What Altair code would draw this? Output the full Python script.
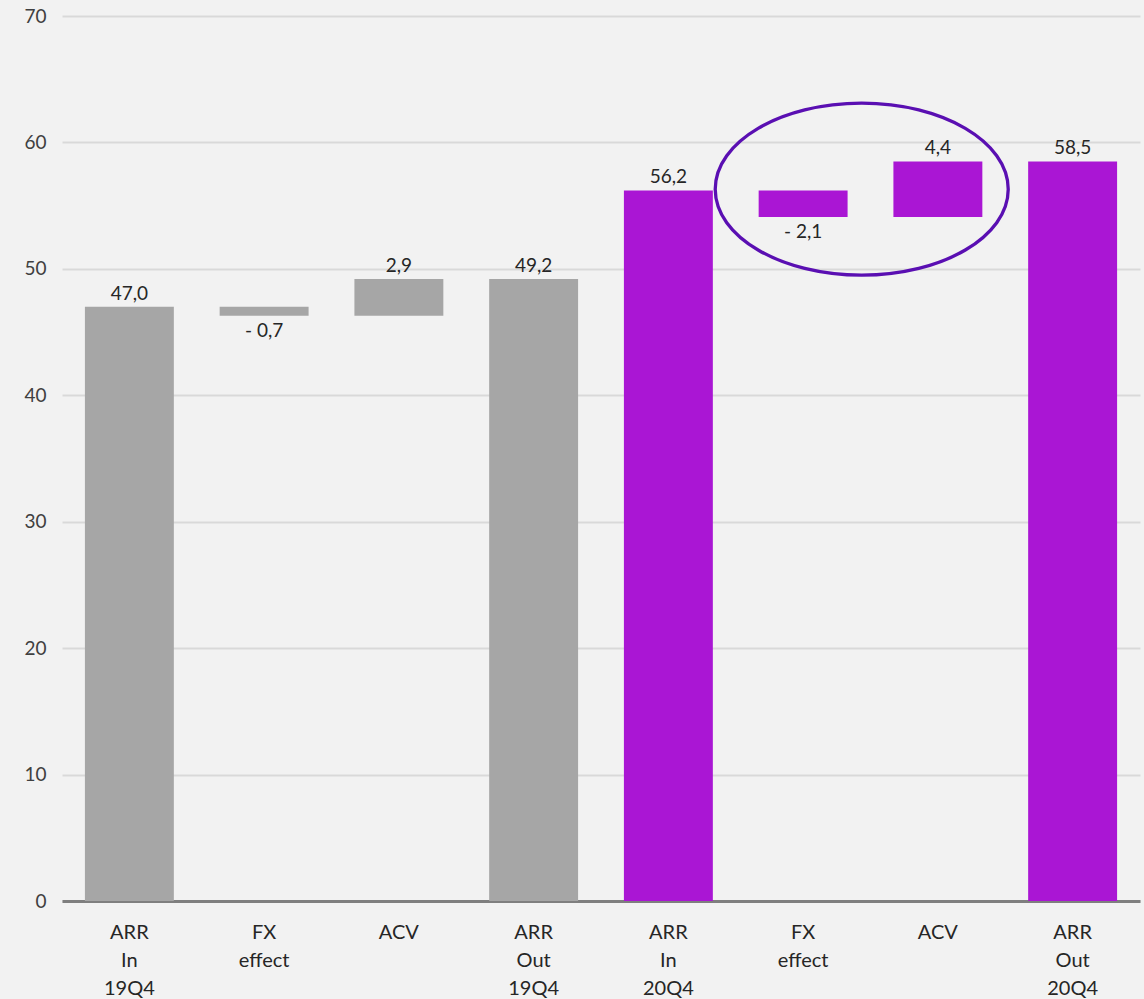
import altair as alt
import pandas as pd

# ---- data ----
categories = ["ARR In 19Q4", "FX effect", "ACV", "ARR Out 19Q4",
              "ARR In 20Q4", "FX effect ", "ACV ", "ARR Out 20Q4"]
values = [47.0, -0.7, 2.9, 49.2, 56.2, -2.1, 4.4, 58.5]
kinds = ["total", "delta", "delta", "total", "total", "delta", "delta", "total"]
periods = ["19", "19", "19", "19", "20", "20", "20", "20"]

y_ticks = [0, 10, 20, 30, 40, 50, 60, 70]

# highlight ellipse (annotation around the 20Q4 FX/ACV bars)
ellipse_cat = ["FX effect "]
ellipse_y = [56.3]

GRAY = "#a6a6a6"
PURPLE = "#aa16d4"
ELLIPSE = "#5a0fb2"
FONT = "Lato"

rows = []
running = 0.0
for c, v, k, p in zip(categories, values, kinds, periods):
    if k == "total":
        start, end = 0.0, v
        running = v
        label = f"{v:.1f}".replace(".", ",")
    else:
        start, end = running, running + v
        running = end
        label = (f"- {abs(v):.1f}" if v < 0 else f"{v:.1f}").replace(".", ",")
    rows.append({"cat": c, "start": start, "end": end, "value": v,
                 "label": label, "period": p, "neg": v < 0})
df = pd.DataFrame(rows)

x_enc = alt.X("cat:N", sort=categories,
              scale=alt.Scale(paddingInner=0.34, paddingOuter=0.17),
              axis=alt.Axis(title=None, labelAngle=0, ticks=False,
                            domain=True, domainColor="#7f7f7f", domainWidth=3,
                            labelExpr="split(trim(datum.value), ' ')",
                            labelFont=FONT, labelFontSize=20, labelColor="#262626",
                            labelPadding=21, labelLineHeight=28,
                            labelBaseline="top"))
y_scale = alt.Scale(domain=[0, 70], nice=False)

base = alt.Chart(df)

bars = base.mark_bar().encode(
    x=x_enc,
    y=alt.Y("start:Q", scale=y_scale,
            axis=alt.Axis(title=None, values=y_ticks, ticks=False, domain=False,
                          gridColor="#d9d9d9", gridWidth=2,
                          labelFont=FONT, labelFontSize=19, labelColor="#404040",
                          labelPadding=16)),
    y2="end:Q",
    color=alt.Color("period:N", scale=alt.Scale(domain=["19", "20"], range=[GRAY, PURPLE]),
                    legend=None),
)

pos_labels = base.transform_filter("!datum.neg").mark_text(
    baseline="bottom", dy=-3, font=FONT, fontSize=19, color="#262626"
).encode(x=alt.X("cat:N", sort=categories), y=alt.Y("end:Q"), text="label:N")

neg_labels = base.transform_filter("datum.neg").mark_text(
    baseline="top", dy=6, font=FONT, fontSize=19, color="#262626"
).encode(x=alt.X("cat:N", sort=categories), y=alt.Y("end:Q"), text="label:N")

edf = pd.DataFrame({"cat": ellipse_cat, "y": ellipse_y})
ellipse = alt.Chart(edf).mark_point(
    shape="M -0.6 0 A 1 0.587 0 1 1 1.4 0 A 1 0.587 0 1 1 -0.6 0 Z",
    size=85849, filled=False, stroke=ELLIPSE, strokeWidth=3.3, opacity=1
).encode(
    x=alt.X("cat:N", sort=categories),
    y=alt.Y("y:Q"),
)

chart = alt.layer(bars, pos_labels, neg_labels, ellipse).properties(
    width=1078, height=885,
    background="#f2f2f2",
    padding={"left": 62, "top": 16, "right": 4, "bottom": 98},
    autosize=alt.AutoSizeParams(type="none"),
).configure_view(stroke=None)

chart.save("out.html", embed_options={"renderer": "svg", "actions": False})
